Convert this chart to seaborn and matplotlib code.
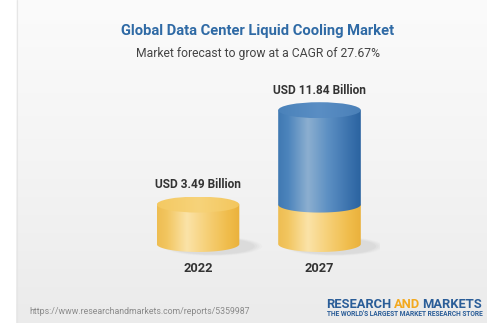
import numpy as np
import pandas as pd
import matplotlib
matplotlib.use("Agg")
import matplotlib.pyplot as plt
import seaborn as sns
from matplotlib.path import Path
from matplotlib.patches import PathPatch, Ellipse
from matplotlib.colors import LinearSegmentedColormap

# ---- data ----
years = ["2022", "2027"]
market_size = [3.49, 11.84]          # USD billion
base_size = [3.49, 3.49]             # 2022 level, shown as the base of each cylinder
value_labels = ["USD 3.49 Billion", "USD 11.84 Billion"]

title = "Global Data Center Liquid Cooling Market"
subtitle = "Market forecast to grow at a CAGR of 27.67%"
source = "https://www.researchandmarkets.com/reports/5359987"
logo_parts = ["RESEARCH", "AND", "MARKETS"]
logo_colors = ["#2a5d98", "#f3a91f", "#2a5d98"]
tagline = "THE WORLD'S LARGEST MARKET RESEARCH STORE"

# ---- style ----
sns.set_theme(style="white")
plt.rcParams["font.family"] = ["Roboto", "DejaVu Sans"]

W, H = 487, 323
fig = plt.figure(figsize=(W / 100, H / 100), dpi=100)
fig.patch.set_facecolor("white")


def fx(x):
    return x / W


def fy(y):
    return 1 - y / H


# background panel with a soft vertical gradient
bg = fig.add_axes([0, 0, 1, 1], zorder=-10)
bg.set_xlim(0, W)
bg.set_ylim(H, 0)
bg.axis("off")
bg_cmap = LinearSegmentedColormap.from_list("bg", ["#fbfbfb", "#f4f4f4", "#ebebeb"])
bg.imshow(np.linspace(0, 1, 256)[:, None], extent=[16, W, H, 0], cmap=bg_cmap,
          aspect="auto", interpolation="bicubic")
bg.plot([16.5, 16.5], [0, H], color="#e6e6e6", lw=0.8)

# ---- main axes ----
px_per_unit = 11.3
zero_px = 244
ax_top, ax_bot = 80, 262
ax_left, ax_w = 137.25, 243
ax = fig.add_axes([fx(ax_left), fy(ax_bot), fx(ax_w), (ax_bot - ax_top) / H])
ax.patch.set_alpha(0)

df = pd.DataFrame({"year": years, "total": market_size, "base": base_size})
bar_w = 0.68
sns.barplot(data=df, x="year", y="total", color="#4a80b8", width=bar_w,
            saturation=1, ax=ax)
sns.barplot(data=df, x="year", y="base", color="#f3c75f", width=bar_w,
            saturation=1, ax=ax)

ylo = -(ax_bot - zero_px) / px_per_unit
yhi = (zero_px - ax_top) / px_per_unit
ax.set_xlim(-0.5, 1.5)
ax.set_ylim(ylo, yhi)
ax.axis("off")

ry = 8.0 / px_per_unit  # half-height of the ellipse faces

yellow_body = LinearSegmentedColormap.from_list(
    "yb", [(0, "#eebd52"), (0.12, "#f2c660"), (0.36, "#fbe3a8"),
           (0.6, "#f6d078"), (0.85, "#f0bd4c"), (1, "#eab13c")])
blue_body = LinearSegmentedColormap.from_list(
    "bb", [(0, "#4079b2"), (0.12, "#4c84bc"), (0.36, "#8cafd0"),
           (0.6, "#5d90c3"), (0.85, "#3c73ae"), (1, "#2b63a0")])
yellow_top = LinearSegmentedColormap.from_list("yt", ["#f4c962", "#f7d37a", "#f3c65c"])
blue_top = LinearSegmentedColormap.from_list("bt", ["#4a82ba", "#5a8ec4", "#4a80b8"])

grad = np.linspace(0, 1, 256)[None, :]


def body(x0, w, y0, y1, cmap, z):
    cx = x0 + w / 2
    t = np.linspace(np.pi, 2 * np.pi, 80)
    xs = cx + (w / 2) * np.cos(t)
    ys = y0 + ry * np.sin(t)
    verts = [(x0, y1)] + list(zip(xs, ys)) + [(x0 + w, y1), (x0, y1)]
    codes = [Path.MOVETO] + [Path.LINETO] * (len(verts) - 2) + [Path.CLOSEPOLY]
    clip = PathPatch(Path(verts, codes), facecolor="none", edgecolor="none")
    ax.add_patch(clip)
    im = ax.imshow(grad, extent=[x0, x0 + w, y0 - ry, y1], cmap=cmap,
                   aspect="auto", interpolation="bicubic", zorder=z)
    im.set_clip_path(clip)


def top(x0, w, y1, cmap, z):
    cx = x0 + w / 2
    el = Ellipse((cx, y1), w, 2 * ry, facecolor="none", edgecolor="none")
    ax.add_patch(el)
    im = ax.imshow(grad, extent=[x0, x0 + w, y1 - ry, y1 + ry], cmap=cmap,
                   aspect="auto", interpolation="bicubic", zorder=z)
    im.set_clip_path(el)


totals = ax.patches[:2]
bases = ax.patches[2:4]

for i, (pt, pb) in enumerate(zip(totals, bases)):
    x0, w = pt.get_x(), pt.get_width()
    cx = x0 + w / 2
    total = pt.get_height()
    base = pb.get_height()
    pt.set_visible(False)
    pb.set_visible(False)

    # soft floor shadow, cast to the right
    for k, a in enumerate([0.04, 0.05, 0.06, 0.07]):
        sc = 1.2 - 0.06 * k
        ax.add_patch(Ellipse((cx + 0.12, -0.2), w * sc, 2 * ry * sc,
                             facecolor="#9a9a9a", edgecolor="none", alpha=a, zorder=1))

    body(x0, w, 0, base, yellow_body, 2)
    if total > base + 1e-9:
        body(x0, w, base, total, blue_body, 3)
        top(x0, w, total, blue_top, 4)
    else:
        top(x0, w, total, yellow_top, 4)

    ax.annotate(value_labels[i], (cx, total), xytext=(0, 20), textcoords="offset pixels",
                ha="center", va="center", fontsize=8.6, fontweight="bold",
                color="#333333", annotation_clip=False)
    ax.annotate(years[i], (cx, 0), xytext=(0, -24), textcoords="offset pixels",
                ha="center", va="center", fontsize=9.2, fontweight="bold",
                color="#333333", annotation_clip=False)

ax.set_xlim(-0.5, 1.5)
ax.set_ylim(ylo, yhi)

# ---- titles ----
fig.text(fx(258), fy(31), title, ha="center", va="center", fontsize=10.6,
         fontweight="bold", color="#2f6aa5")
fig.text(fx(258), fy(53), subtitle, ha="center", va="center", fontsize=8.75,
         color="#444444")

# ---- footer ----
fig.text(fx(29), fy(311), source, ha="left", va="center", fontsize=6.35,
         color="#8a8a8a")

# logo words laid out one after another with a small gap
renderer = fig.canvas.get_renderer()
x_cursor = 326.5
for word, col in zip(logo_parts, logo_colors):
    t = fig.text(fx(x_cursor), fy(304), word, ha="left", va="center", fontsize=9.3,
                 fontweight="bold", color=col)
    ext = t.get_window_extent(renderer=renderer)
    x_cursor += ext.width + 2.2
fig.text(fx(327), fy(314.5), tagline, ha="left", va="center", fontsize=4.8,
         fontweight="bold", color="#2a5d98")

fig.savefig("out.png", dpi=100)
